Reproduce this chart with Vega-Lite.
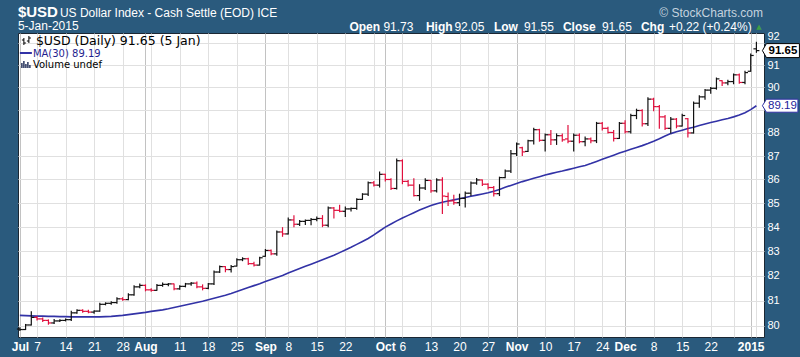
{
  "$schema": "https://vega.github.io/schema/vega-lite/v6.json",
  "width": 746,
  "height": 304,
  "autosize": {"type": "none"},
  "padding": {"left": 18, "top": 33, "right": 36, "bottom": 20},
  "background": "#2a5a7d",
  "config": {
    "view": {"fill": "white", "stroke": "#1b2733", "strokeWidth": 1},
    "text": {"font": "Liberation Sans"}
  },
  "datasets": {
    "usd": [
        {"date":"2014-07-01","open":79.88,"high":79.95,"low":79.80,"close":79.86,"ma":80.42},
        {"date":"2014-07-02","open":79.86,"high":80.08,"low":79.84,"close":80.04,"ma":80.41},
        {"date":"2014-07-03","open":80.04,"high":80.58,"low":80.02,"close":80.34,"ma":80.40},
        {"date":"2014-07-07","open":80.34,"high":80.40,"low":80.22,"close":80.28,"ma":80.39},
        {"date":"2014-07-08","open":80.28,"high":80.34,"low":80.16,"close":80.22,"ma":80.39},
        {"date":"2014-07-09","open":80.22,"high":80.26,"low":80.05,"close":80.12,"ma":80.38},
        {"date":"2014-07-10","open":80.12,"high":80.28,"low":80.08,"close":80.20,"ma":80.38},
        {"date":"2014-07-11","open":80.20,"high":80.27,"low":80.16,"close":80.22,"ma":80.37},
        {"date":"2014-07-14","open":80.22,"high":80.30,"low":80.18,"close":80.25,"ma":80.37},
        {"date":"2014-07-15","open":80.25,"high":80.60,"low":80.20,"close":80.52,"ma":80.36},
        {"date":"2014-07-16","open":80.52,"high":80.66,"low":80.48,"close":80.62,"ma":80.36},
        {"date":"2014-07-17","open":80.62,"high":80.66,"low":80.52,"close":80.58,"ma":80.36},
        {"date":"2014-07-18","open":80.58,"high":80.64,"low":80.50,"close":80.55,"ma":80.36},
        {"date":"2014-07-21","open":80.55,"high":80.62,"low":80.48,"close":80.59,"ma":80.36},
        {"date":"2014-07-22","open":80.59,"high":80.92,"low":80.56,"close":80.86,"ma":80.36},
        {"date":"2014-07-23","open":80.86,"high":80.94,"low":80.82,"close":80.90,"ma":80.37},
        {"date":"2014-07-24","open":80.90,"high":80.98,"low":80.84,"close":80.93,"ma":80.38},
        {"date":"2014-07-25","open":80.93,"high":81.14,"low":80.88,"close":81.08,"ma":80.40},
        {"date":"2014-07-28","open":81.08,"high":81.14,"low":81.00,"close":81.05,"ma":80.42},
        {"date":"2014-07-29","open":81.05,"high":81.30,"low":81.02,"close":81.24,"ma":80.45},
        {"date":"2014-07-30","open":81.24,"high":81.62,"low":81.20,"close":81.56,"ma":80.48},
        {"date":"2014-07-31","open":81.56,"high":81.70,"low":81.50,"close":81.62,"ma":80.51},
        {"date":"2014-08-01","open":81.62,"high":81.66,"low":81.38,"close":81.44,"ma":80.54},
        {"date":"2014-08-04","open":81.44,"high":81.50,"low":81.36,"close":81.42,"ma":80.58},
        {"date":"2014-08-05","open":81.42,"high":81.68,"low":81.40,"close":81.62,"ma":80.61},
        {"date":"2014-08-06","open":81.62,"high":81.74,"low":81.56,"close":81.66,"ma":80.64},
        {"date":"2014-08-07","open":81.66,"high":81.72,"low":81.58,"close":81.68,"ma":80.68},
        {"date":"2014-08-08","open":81.68,"high":81.70,"low":81.42,"close":81.48,"ma":80.73},
        {"date":"2014-08-11","open":81.48,"high":81.62,"low":81.44,"close":81.58,"ma":80.78},
        {"date":"2014-08-12","open":81.58,"high":81.72,"low":81.54,"close":81.68,"ma":80.83},
        {"date":"2014-08-13","open":81.68,"high":81.76,"low":81.60,"close":81.71,"ma":80.88},
        {"date":"2014-08-14","open":81.71,"high":81.78,"low":81.50,"close":81.56,"ma":80.93},
        {"date":"2014-08-15","open":81.56,"high":81.66,"low":81.42,"close":81.50,"ma":80.98},
        {"date":"2014-08-18","open":81.50,"high":81.72,"low":81.46,"close":81.68,"ma":81.04},
        {"date":"2014-08-19","open":81.68,"high":82.22,"low":81.64,"close":82.16,"ma":81.10},
        {"date":"2014-08-20","open":82.16,"high":82.42,"low":82.12,"close":82.38,"ma":81.16},
        {"date":"2014-08-21","open":82.38,"high":82.40,"low":82.15,"close":82.26,"ma":81.22},
        {"date":"2014-08-22","open":82.26,"high":82.44,"low":82.14,"close":82.38,"ma":81.29},
        {"date":"2014-08-25","open":82.40,"high":82.72,"low":82.38,"close":82.66,"ma":81.37},
        {"date":"2014-08-26","open":82.66,"high":82.76,"low":82.60,"close":82.70,"ma":81.45},
        {"date":"2014-08-27","open":82.70,"high":82.74,"low":82.45,"close":82.50,"ma":81.53},
        {"date":"2014-08-28","open":82.50,"high":82.58,"low":82.38,"close":82.44,"ma":81.61},
        {"date":"2014-08-29","open":82.44,"high":82.78,"low":82.42,"close":82.74,"ma":81.69},
        {"date":"2014-09-02","open":82.80,"high":83.10,"low":82.78,"close":83.04,"ma":81.78},
        {"date":"2014-09-03","open":83.04,"high":83.08,"low":82.84,"close":82.90,"ma":81.86},
        {"date":"2014-09-04","open":82.90,"high":83.86,"low":82.82,"close":83.80,"ma":81.94},
        {"date":"2014-09-05","open":83.80,"high":84.00,"low":83.60,"close":83.72,"ma":82.02},
        {"date":"2014-09-08","open":83.72,"high":84.40,"low":83.70,"close":84.30,"ma":82.12},
        {"date":"2014-09-09","open":84.30,"high":84.50,"low":84.00,"close":84.12,"ma":82.21},
        {"date":"2014-09-10","open":84.12,"high":84.30,"low":84.05,"close":84.24,"ma":82.30},
        {"date":"2014-09-11","open":84.24,"high":84.32,"low":84.09,"close":84.28,"ma":82.39},
        {"date":"2014-09-12","open":84.28,"high":84.38,"low":84.08,"close":84.32,"ma":82.48},
        {"date":"2014-09-15","open":84.32,"high":84.44,"low":84.25,"close":84.36,"ma":82.57},
        {"date":"2014-09-16","open":84.36,"high":84.50,"low":84.00,"close":84.08,"ma":82.66},
        {"date":"2014-09-17","open":84.08,"high":84.86,"low":84.00,"close":84.80,"ma":82.75},
        {"date":"2014-09-18","open":84.80,"high":84.84,"low":84.36,"close":84.70,"ma":82.84},
        {"date":"2014-09-19","open":84.70,"high":84.93,"low":84.62,"close":84.66,"ma":82.95},
        {"date":"2014-09-22","open":84.66,"high":84.86,"low":84.42,"close":84.76,"ma":83.06},
        {"date":"2014-09-23","open":84.76,"high":84.82,"low":84.65,"close":84.78,"ma":83.17},
        {"date":"2014-09-24","open":84.78,"high":85.21,"low":84.72,"close":85.16,"ma":83.29},
        {"date":"2014-09-25","open":85.16,"high":85.42,"low":85.14,"close":85.38,"ma":83.41},
        {"date":"2014-09-26","open":85.38,"high":85.91,"low":85.30,"close":85.86,"ma":83.53},
        {"date":"2014-09-29","open":85.86,"high":85.94,"low":85.70,"close":85.76,"ma":83.68},
        {"date":"2014-09-30","open":85.76,"high":86.34,"low":85.66,"close":86.22,"ma":83.84},
        {"date":"2014-10-01","open":86.22,"high":86.24,"low":85.92,"close":86.00,"ma":84.00},
        {"date":"2014-10-02","open":86.00,"high":86.05,"low":85.56,"close":85.62,"ma":84.13},
        {"date":"2014-10-03","open":85.62,"high":86.90,"low":85.58,"close":86.80,"ma":84.26},
        {"date":"2014-10-06","open":86.80,"high":86.86,"low":85.80,"close":85.92,"ma":84.38},
        {"date":"2014-10-07","open":85.92,"high":85.98,"low":85.70,"close":85.76,"ma":84.49},
        {"date":"2014-10-08","open":85.76,"high":86.05,"low":85.28,"close":85.32,"ma":84.60},
        {"date":"2014-10-09","open":85.32,"high":85.80,"low":85.10,"close":85.64,"ma":84.71},
        {"date":"2014-10-10","open":85.64,"high":86.05,"low":85.56,"close":85.96,"ma":84.81},
        {"date":"2014-10-13","open":85.96,"high":85.98,"low":85.44,"close":85.52,"ma":84.90},
        {"date":"2014-10-14","open":85.52,"high":86.05,"low":85.45,"close":85.98,"ma":84.98},
        {"date":"2014-10-15","open":85.98,"high":86.10,"low":84.55,"close":85.30,"ma":85.04},
        {"date":"2014-10-16","open":85.28,"high":85.45,"low":84.88,"close":85.10,"ma":85.09},
        {"date":"2014-10-17","open":85.10,"high":85.35,"low":84.93,"close":85.02,"ma":85.14},
        {"date":"2014-10-20","open":85.02,"high":85.40,"low":84.88,"close":85.20,"ma":85.19},
        {"date":"2014-10-21","open":85.20,"high":85.49,"low":84.82,"close":85.42,"ma":85.24},
        {"date":"2014-10-22","open":85.42,"high":85.92,"low":85.30,"close":85.85,"ma":85.29},
        {"date":"2014-10-23","open":85.85,"high":86.06,"low":85.78,"close":85.98,"ma":85.34},
        {"date":"2014-10-24","open":85.98,"high":86.00,"low":85.72,"close":85.80,"ma":85.39},
        {"date":"2014-10-27","open":85.80,"high":85.84,"low":85.58,"close":85.66,"ma":85.44},
        {"date":"2014-10-28","open":85.66,"high":85.72,"low":85.28,"close":85.40,"ma":85.50},
        {"date":"2014-10-29","open":85.40,"high":86.12,"low":85.30,"close":86.08,"ma":85.58},
        {"date":"2014-10-30","open":86.08,"high":86.42,"low":86.05,"close":86.36,"ma":85.67},
        {"date":"2014-10-31","open":86.36,"high":87.26,"low":86.28,"close":87.10,"ma":85.75},
        {"date":"2014-11-03","open":87.10,"high":87.58,"low":87.00,"close":87.52,"ma":85.83},
        {"date":"2014-11-04","open":87.36,"high":87.40,"low":87.00,"close":87.18,"ma":85.91},
        {"date":"2014-11-05","open":87.20,"high":87.70,"low":87.18,"close":87.66,"ma":85.98},
        {"date":"2014-11-06","open":87.66,"high":88.22,"low":87.50,"close":88.14,"ma":86.05},
        {"date":"2014-11-07","open":88.14,"high":88.18,"low":87.62,"close":87.68,"ma":86.12},
        {"date":"2014-11-10","open":87.68,"high":87.98,"low":87.20,"close":87.92,"ma":86.19},
        {"date":"2014-11-11","open":87.92,"high":88.13,"low":87.48,"close":87.70,"ma":86.25},
        {"date":"2014-11-12","open":87.70,"high":87.98,"low":87.48,"close":87.88,"ma":86.31},
        {"date":"2014-11-13","open":87.88,"high":87.98,"low":87.62,"close":87.70,"ma":86.36},
        {"date":"2014-11-14","open":87.74,"high":88.35,"low":87.55,"close":87.64,"ma":86.42},
        {"date":"2014-11-17","open":87.64,"high":87.98,"low":87.20,"close":87.90,"ma":86.48},
        {"date":"2014-11-18","open":87.90,"high":87.98,"low":87.55,"close":87.62,"ma":86.54},
        {"date":"2014-11-19","open":87.62,"high":87.84,"low":87.42,"close":87.74,"ma":86.60},
        {"date":"2014-11-20","open":87.74,"high":87.80,"low":87.55,"close":87.66,"ma":86.68},
        {"date":"2014-11-21","open":87.66,"high":88.48,"low":87.56,"close":88.42,"ma":86.77},
        {"date":"2014-11-24","open":88.42,"high":88.48,"low":88.10,"close":88.20,"ma":86.86},
        {"date":"2014-11-25","open":88.20,"high":88.27,"low":87.98,"close":88.02,"ma":86.95},
        {"date":"2014-11-26","open":88.02,"high":88.13,"low":87.63,"close":87.76,"ma":87.04},
        {"date":"2014-11-28","open":87.76,"high":88.48,"low":87.74,"close":88.42,"ma":87.13},
        {"date":"2014-12-01","open":88.42,"high":88.55,"low":87.98,"close":88.05,"ma":87.21},
        {"date":"2014-12-02","open":88.05,"high":88.84,"low":87.98,"close":88.76,"ma":87.29},
        {"date":"2014-12-03","open":88.76,"high":89.06,"low":88.60,"close":88.98,"ma":87.37},
        {"date":"2014-12-04","open":88.98,"high":89.04,"low":88.28,"close":88.40,"ma":87.45},
        {"date":"2014-12-05","open":88.40,"high":89.56,"low":88.30,"close":89.48,"ma":87.54},
        {"date":"2014-12-08","open":89.48,"high":89.54,"low":88.95,"close":89.15,"ma":87.64},
        {"date":"2014-12-09","open":89.15,"high":89.22,"low":88.18,"close":88.70,"ma":87.75},
        {"date":"2014-12-10","open":88.70,"high":88.78,"low":88.13,"close":88.20,"ma":87.87},
        {"date":"2014-12-11","open":88.20,"high":88.70,"low":87.98,"close":88.60,"ma":87.97},
        {"date":"2014-12-12","open":88.60,"high":88.65,"low":88.20,"close":88.30,"ma":88.05},
        {"date":"2014-12-15","open":88.30,"high":88.84,"low":88.28,"close":88.76,"ma":88.12},
        {"date":"2014-12-16","open":88.62,"high":88.65,"low":87.80,"close":88.00,"ma":88.19},
        {"date":"2014-12-17","open":88.00,"high":89.38,"low":87.98,"close":89.30,"ma":88.25},
        {"date":"2014-12-18","open":89.30,"high":89.65,"low":89.10,"close":89.58,"ma":88.32},
        {"date":"2014-12-19","open":89.58,"high":89.93,"low":89.45,"close":89.88,"ma":88.39},
        {"date":"2014-12-22","open":89.88,"high":90.02,"low":89.72,"close":89.96,"ma":88.45},
        {"date":"2014-12-23","open":89.96,"high":90.44,"low":89.90,"close":90.38,"ma":88.51},
        {"date":"2014-12-24","open":90.30,"high":90.32,"low":90.06,"close":90.20,"ma":88.57},
        {"date":"2014-12-26","open":90.20,"high":90.34,"low":90.10,"close":90.26,"ma":88.63},
        {"date":"2014-12-29","open":90.26,"high":90.62,"low":90.14,"close":90.56,"ma":88.70},
        {"date":"2014-12-30","open":90.56,"high":90.62,"low":90.16,"close":90.22,"ma":88.78},
        {"date":"2014-12-31","open":90.22,"high":90.74,"low":90.14,"close":90.66,"ma":88.88},
        {"date":"2015-01-02","open":90.72,"high":91.52,"low":90.70,"close":91.43,"ma":89.02},
        {"date":"2015-01-05","open":91.73,"high":92.05,"low":91.55,"close":91.65,"ma":89.19}
    ]
  },
  "layer": [
    {
      "data": {"name": "usd"},
      "mark": {"type": "line", "color": "#3232a6", "strokeWidth": 1.6},
      "encoding": {
        "x": {
          "field": "date",
          "type": "ordinal",
          "scale": {"type": "point", "padding": 0.33, "domain": ["2014-07-01","2014-07-02","2014-07-03","2014-07-07","2014-07-08","2014-07-09","2014-07-10","2014-07-11","2014-07-14","2014-07-15","2014-07-16","2014-07-17","2014-07-18","2014-07-21","2014-07-22","2014-07-23","2014-07-24","2014-07-25","2014-07-28","2014-07-29","2014-07-30","2014-07-31","2014-08-01","2014-08-04","2014-08-05","2014-08-06","2014-08-07","2014-08-08","2014-08-11","2014-08-12","2014-08-13","2014-08-14","2014-08-15","2014-08-18","2014-08-19","2014-08-20","2014-08-21","2014-08-22","2014-08-25","2014-08-26","2014-08-27","2014-08-28","2014-08-29","2014-09-02","2014-09-03","2014-09-04","2014-09-05","2014-09-08","2014-09-09","2014-09-10","2014-09-11","2014-09-12","2014-09-15","2014-09-16","2014-09-17","2014-09-18","2014-09-19","2014-09-22","2014-09-23","2014-09-24","2014-09-25","2014-09-26","2014-09-29","2014-09-30","2014-10-01","2014-10-02","2014-10-03","2014-10-06","2014-10-07","2014-10-08","2014-10-09","2014-10-10","2014-10-13","2014-10-14","2014-10-15","2014-10-16","2014-10-17","2014-10-20","2014-10-21","2014-10-22","2014-10-23","2014-10-24","2014-10-27","2014-10-28","2014-10-29","2014-10-30","2014-10-31","2014-11-03","2014-11-04","2014-11-05","2014-11-06","2014-11-07","2014-11-10","2014-11-11","2014-11-12","2014-11-13","2014-11-14","2014-11-17","2014-11-18","2014-11-19","2014-11-20","2014-11-21","2014-11-24","2014-11-25","2014-11-26","2014-11-28","2014-12-01","2014-12-02","2014-12-03","2014-12-04","2014-12-05","2014-12-08","2014-12-09","2014-12-10","2014-12-11","2014-12-12","2014-12-15","2014-12-16","2014-12-17","2014-12-18","2014-12-19","2014-12-22","2014-12-23","2014-12-24","2014-12-26","2014-12-29","2014-12-30","2014-12-31","2015-01-02","2015-01-05","2015-01-06"]},
          "axis": {
            "orient": "bottom",
            "title": null,
            "values": ["2014-07-01","2014-07-07","2014-07-14","2014-07-21","2014-07-28","2014-08-01","2014-08-04","2014-08-11","2014-08-18","2014-08-25","2014-09-02","2014-09-08","2014-09-15","2014-09-22","2014-09-29","2014-10-01","2014-10-06","2014-10-13","2014-10-20","2014-10-27","2014-11-03","2014-11-10","2014-11-17","2014-11-24","2014-12-01","2014-12-08","2014-12-15","2014-12-22","2014-12-29","2015-01-02","2015-01-05"],
            "labelExpr": "datum.value == '2015-01-02' ? '2015' : indexof(['2014-07-01','2014-08-01','2014-09-02','2014-10-01','2014-11-03','2014-12-01'], datum.value) >= 0 ? ['Jan','Feb','Mar','Apr','May','Jun','Jul','Aug','Sep','Oct','Nov','Dec'][toNumber(substring(datum.value, 5, 7)) - 1] : indexof(['2014-08-04','2014-09-29','2014-12-29','2015-01-05'], datum.value) >= 0 ? '' : '' + toNumber(substring(datum.value, 8, 10))",
            "labelFontWeight": {"condition": {"test": "indexof(['2014-07-01','2014-08-01','2014-09-02','2014-10-01','2014-11-03','2014-12-01','2015-01-02'], datum.value) >= 0", "value": "bold"}, "value": "normal"},
            "labelAngle": 0,
            "labelColor": "white",
            "labelFont": "Liberation Sans",
            "labelFontSize": 12,
            "labelPadding": 4,
            "labelOverlap": false,
            "labelBound": false,
            "ticks": false,
            "domain": false,
            "grid": true,
            "gridColor": {"condition": {"test": "indexof(['2014-07-01','2014-08-01','2014-09-02','2014-10-01','2014-11-03','2014-12-01','2015-01-02'], datum.value) >= 0", "value": "#c2c2c2"}, "value": "#e0e0e0"},
            "gridWidth": 1
          }
        },
        "y": {
          "field": "ma",
          "type": "quantitative",
          "scale": {"type": "log", "domain": [79.566, 92.45], "nice": false, "zero": false},
          "axis": {
            "orient": "right",
            "title": null,
            "values": [80,81,82,83,84,85,86,87,88,89,90,91,92],
            "format": "d",
            "labelExpr": "datum.value == 89 ? '' : datum.label",
            "labelOffset": {"condition": {"test": "datum.value == 92", "value": -6}, "value": 0},
            "labelColor": "white",
            "labelFont": "Liberation Sans",
            "labelFontSize": 11,
            "labelPadding": 3,
            "labelBaseline": "middle",
            "labelOverlap": false,
            "ticks": false,
            "domain": false,
            "grid": true,
            "gridColor": "#e0e0e0"
          }
        }
      }
    },
    {
      "data": {"name": "usd"},
      "transform": [
        {"window": [{"op": "lag", "field": "close", "as": "prev"}], "sort": [{"field": "date", "order": "ascending"}]}
      ],
      "mark": {"type": "rule", "strokeWidth": 1.2},
      "encoding": {
        "x": {"field": "date", "type": "ordinal"},
        "y": {"field": "low", "type": "quantitative"},
        "y2": {"field": "high"},
        "color": {"condition": {"test": "datum.prev == null || datum.close >= datum.prev", "value": "#111111"}, "value": "#e0103e"}
      }
    },
    {
      "data": {"name": "usd"},
      "transform": [
        {"window": [{"op": "lag", "field": "close", "as": "prev"}], "sort": [{"field": "date", "order": "ascending"}]}
      ],
      "mark": {"type": "point", "shape": "M-1,0L0,0", "size": 36, "strokeWidth": 1.2, "opacity": 1, "filled": false},
      "encoding": {
        "x": {"field": "date", "type": "ordinal"},
        "y": {"field": "open", "type": "quantitative"},
        "color": {"condition": {"test": "datum.prev == null || datum.close >= datum.prev", "value": "#111111"}, "value": "#e0103e"}
      }
    },
    {
      "data": {"name": "usd"},
      "transform": [
        {"window": [{"op": "lag", "field": "close", "as": "prev"}], "sort": [{"field": "date", "order": "ascending"}]}
      ],
      "mark": {"type": "point", "shape": "M0,0L1,0", "size": 36, "strokeWidth": 1.2, "opacity": 1, "filled": false},
      "encoding": {
        "x": {"field": "date", "type": "ordinal"},
        "y": {"field": "close", "type": "quantitative"},
        "color": {"condition": {"test": "datum.prev == null || datum.close >= datum.prev", "value": "#111111"}, "value": "#e0103e"}
      }
    },
    {
      "data": {"values": [{"t": "$USD"}]},
      "mark": {"type": "text", "align": "left", "baseline": "alphabetic", "dx": -2, "dy": -16, "fontSize": 15, "fontWeight": "bold", "color": "white"},
      "encoding": {"x": {"datum": "2014-07-01", "type": "ordinal"}, "y": {"datum": 92.45, "type": "quantitative"}, "text": {"field": "t"}}
    },
    {
      "data": {"values": [{"t": "5-Jan-2015"}]},
      "mark": {"type": "text", "align": "left", "baseline": "alphabetic", "dx": -2, "dy": -3, "fontSize": 12, "color": "white"},
      "encoding": {"x": {"datum": "2014-07-01", "type": "ordinal"}, "y": {"datum": 92.45, "type": "quantitative"}, "text": {"field": "t"}}
    },
    {
      "data": {"values": [{"t": "US Dollar Index - Cash Settle (EOD) ICE"}]},
      "mark": {"type": "text", "align": "left", "baseline": "alphabetic", "dx": 40, "dy": -16, "fontSize": 12, "color": "white"},
      "encoding": {"x": {"datum": "2014-07-01", "type": "ordinal"}, "y": {"datum": 92.45, "type": "quantitative"}, "text": {"field": "t"}}
    },
    {
      "data": {"values": [{"t": "© StockCharts.com"}]},
      "mark": {"type": "text", "align": "right", "baseline": "alphabetic", "dx": 6.5, "dy": -16, "fontSize": 12, "color": "#c5d3df"},
      "encoding": {"x": {"datum": "2015-01-05", "type": "ordinal"}, "y": {"datum": 92.45, "type": "quantitative"}, "text": {"field": "t"}}
    },
    {
      "data": {"values": [{"t": "Open"}]},
      "mark": {"type": "text", "align": "left", "baseline": "alphabetic", "dx": -407, "dy": -2, "fontSize": 12, "fontWeight": "bold", "color": "white"},
      "encoding": {"x": {"datum": "2015-01-05", "type": "ordinal"}, "y": {"datum": 92.45, "type": "quantitative"}, "text": {"field": "t"}}
    },
    {
      "data": {"values": [{"t": "91.73"}]},
      "mark": {"type": "text", "align": "left", "baseline": "alphabetic", "dx": -373, "dy": -2, "fontSize": 12, "color": "white"},
      "encoding": {"x": {"datum": "2015-01-05", "type": "ordinal"}, "y": {"datum": 92.45, "type": "quantitative"}, "text": {"field": "t"}}
    },
    {
      "data": {"values": [{"t": "High"}]},
      "mark": {"type": "text", "align": "left", "baseline": "alphabetic", "dx": -330.5, "dy": -2, "fontSize": 12, "fontWeight": "bold", "color": "white"},
      "encoding": {"x": {"datum": "2015-01-05", "type": "ordinal"}, "y": {"datum": 92.45, "type": "quantitative"}, "text": {"field": "t"}}
    },
    {
      "data": {"values": [{"t": "92.05"}]},
      "mark": {"type": "text", "align": "left", "baseline": "alphabetic", "dx": -302, "dy": -2, "fontSize": 12, "color": "white"},
      "encoding": {"x": {"datum": "2015-01-05", "type": "ordinal"}, "y": {"datum": 92.45, "type": "quantitative"}, "text": {"field": "t"}}
    },
    {
      "data": {"values": [{"t": "Low"}]},
      "mark": {"type": "text", "align": "left", "baseline": "alphabetic", "dx": -262.5, "dy": -2, "fontSize": 12, "fontWeight": "bold", "color": "white"},
      "encoding": {"x": {"datum": "2015-01-05", "type": "ordinal"}, "y": {"datum": 92.45, "type": "quantitative"}, "text": {"field": "t"}}
    },
    {
      "data": {"values": [{"t": "91.55"}]},
      "mark": {"type": "text", "align": "left", "baseline": "alphabetic", "dx": -232.5, "dy": -2, "fontSize": 12, "color": "white"},
      "encoding": {"x": {"datum": "2015-01-05", "type": "ordinal"}, "y": {"datum": 92.45, "type": "quantitative"}, "text": {"field": "t"}}
    },
    {
      "data": {"values": [{"t": "Close"}]},
      "mark": {"type": "text", "align": "left", "baseline": "alphabetic", "dx": -193.5, "dy": -2, "fontSize": 12, "fontWeight": "bold", "color": "white"},
      "encoding": {"x": {"datum": "2015-01-05", "type": "ordinal"}, "y": {"datum": 92.45, "type": "quantitative"}, "text": {"field": "t"}}
    },
    {
      "data": {"values": [{"t": "91.65"}]},
      "mark": {"type": "text", "align": "left", "baseline": "alphabetic", "dx": -154.5, "dy": -2, "fontSize": 12, "color": "white"},
      "encoding": {"x": {"datum": "2015-01-05", "type": "ordinal"}, "y": {"datum": 92.45, "type": "quantitative"}, "text": {"field": "t"}}
    },
    {
      "data": {"values": [{"t": "Chg"}]},
      "mark": {"type": "text", "align": "left", "baseline": "alphabetic", "dx": -115.5, "dy": -2, "fontSize": 12, "fontWeight": "bold", "color": "white"},
      "encoding": {"x": {"datum": "2015-01-05", "type": "ordinal"}, "y": {"datum": 92.45, "type": "quantitative"}, "text": {"field": "t"}}
    },
    {
      "data": {"values": [{"t": "+0.22 (+0.24%)"}]},
      "mark": {"type": "text", "align": "left", "baseline": "alphabetic", "dx": -87.5, "dy": -2, "fontSize": 12, "color": "white"},
      "encoding": {"x": {"datum": "2015-01-05", "type": "ordinal"}, "y": {"datum": 92.45, "type": "quantitative"}, "text": {"field": "t"}}
    },
    {
      "data": {"values": [{"t": "▲"}]},
      "mark": {"type": "text", "align": "center", "baseline": "alphabetic", "dx": 2.5, "dy": -4, "fontSize": 7, "font": "DejaVu Sans", "color": "#3f9f45"},
      "encoding": {"x": {"datum": "2015-01-05", "type": "ordinal"}, "y": {"datum": 92.45, "type": "quantitative"}, "text": {"field": "t"}}
    },
    {
      "data": {"values": [{"t": "$USD (Daily) 91.65 (5 Jan)"}]},
      "mark": {"type": "text", "align": "left", "baseline": "alphabetic", "dx": 16, "dy": 12, "fontSize": 12.5, "font": "DejaVu Sans", "color": "#000000"},
      "encoding": {"x": {"datum": "2014-07-01", "type": "ordinal"}, "y": {"datum": 92.45, "type": "quantitative"}, "text": {"field": "t"}}
    },
    {
      "data": {"values": [{"t": "MA(30) 89.19"}]},
      "mark": {"type": "text", "align": "left", "baseline": "alphabetic", "dx": 13, "dy": 23.5, "fontSize": 10, "font": "DejaVu Sans", "color": "#1f1f8f"},
      "encoding": {"x": {"datum": "2014-07-01", "type": "ordinal"}, "y": {"datum": 92.45, "type": "quantitative"}, "text": {"field": "t"}}
    },
    {
      "data": {"values": [{"t": "Volume undef"}]},
      "mark": {"type": "text", "align": "left", "baseline": "alphabetic", "dx": 13, "dy": 34.5, "fontSize": 10, "font": "DejaVu Sans", "color": "#000000"},
      "encoding": {"x": {"datum": "2014-07-01", "type": "ordinal"}, "y": {"datum": 92.45, "type": "quantitative"}, "text": {"field": "t"}}
    },
    {
      "data": {"values": [{"t": "ohlc"}]},
      "mark": {"type": "point", "shape": "M4,5L4,12M2,7L4,7M4,10L6,10M9,3L9,10M7,8L9,8M9,5L11,5", "size": 4, "filled": false, "strokeWidth": 1, "opacity": 1, "color": "#000000"},
      "encoding": {"x": {"datum": "2014-07-01", "type": "ordinal"}, "y": {"datum": 92.45, "type": "quantitative"}}
    },
    {
      "data": {"values": [{"t": "ma"}]},
      "mark": {"type": "point", "shape": "M0,20L12,20", "size": 4, "filled": false, "strokeWidth": 2, "opacity": 1, "color": "#3232a6"},
      "encoding": {"x": {"datum": "2014-07-01", "type": "ordinal"}, "y": {"datum": 92.45, "type": "quantitative"}}
    },
    {
      "data": {"values": [{"t": "vol"}]},
      "mark": {"type": "point", "shape": "M2,35L2,30M4,35L4,28M6,35L6,31M8,35L8,29M10,35L10,32", "size": 4, "filled": false, "strokeWidth": 1.4, "opacity": 1, "color": "#1d2a55"},
      "encoding": {"x": {"datum": "2014-07-01", "type": "ordinal"}, "y": {"datum": 92.45, "type": "quantitative"}}
    },
    {
      "data": {"values": [{"v": 91.65, "t": "91.65"}]},
      "mark": {"type": "point", "shape": "M0.6,0L1.0,-0.7L4.3,-0.7L4.3,0.7L1.0,0.7Z", "size": 400, "filled": true, "fill": "white", "stroke": "#000000", "strokeWidth": 1, "opacity": 1},
      "encoding": {"x": {"datum": "2015-01-05", "type": "ordinal"}, "y": {"field": "v", "type": "quantitative"}}
    },
    {
      "data": {"values": [{"v": 91.65, "t": "91.65"}]},
      "mark": {"type": "text", "align": "center", "baseline": "middle", "dx": 26.5, "dy": 0.5, "fontSize": 11.5, "fontWeight": "bold", "color": "#000000"},
      "encoding": {"x": {"datum": "2015-01-05", "type": "ordinal"}, "y": {"field": "v", "type": "quantitative"}, "text": {"field": "t"}}
    },
    {
      "data": {"values": [{"v": 89.19, "t": "89.19"}]},
      "mark": {"type": "point", "shape": "M0.6,0L1.0,-0.65L4.15,-0.65L4.15,0.65L1.0,0.65Z", "size": 400, "filled": true, "fill": "white", "stroke": "#3232a6", "strokeWidth": 1, "opacity": 1},
      "encoding": {"x": {"datum": "2015-01-05", "type": "ordinal"}, "y": {"field": "v", "type": "quantitative"}}
    },
    {
      "data": {"values": [{"v": 89.19, "t": "89.19"}]},
      "mark": {"type": "text", "align": "center", "baseline": "middle", "dx": 26, "dy": 0.5, "fontSize": 11.5, "color": "#22229a"},
      "encoding": {"x": {"datum": "2015-01-05", "type": "ordinal"}, "y": {"field": "v", "type": "quantitative"}, "text": {"field": "t"}}
    }
  ]
}
